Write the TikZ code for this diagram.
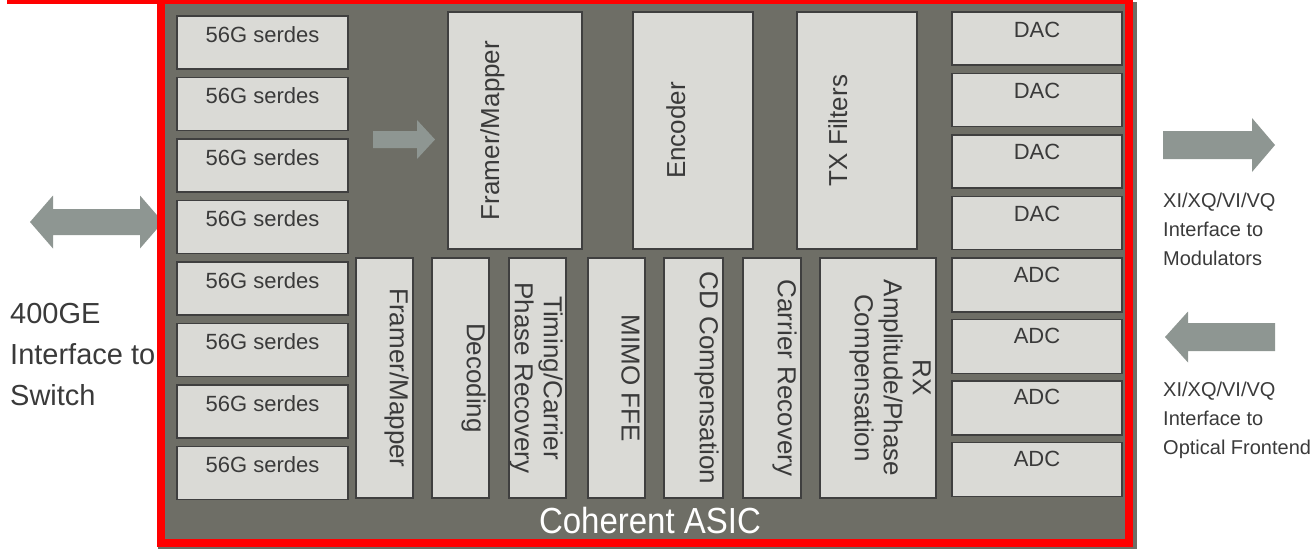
\documentclass[tikz,border=0pt]{standalone}
\usepackage{fontspec}
\setmainfont{Liberation Sans}
\definecolor{asicgray}{HTML}{6E6E66}
\definecolor{blkfill}{HTML}{DADAD6}
\definecolor{blkdraw}{HTML}{3F3F3F}
\definecolor{txt}{HTML}{3A3A3A}
\definecolor{arr}{HTML}{8E9692}
\newcommand\blkbox[5]{\node[blk, minimum width={(#4)-(#2)}, minimum height={(#5)-(#3)}] (#1) at ({((#2)+(#4))/2},{((#3)+(#5))/2}) {};}
\begin{document}
\begin{tikzpicture}[x=1pt,y=-1pt,
  blk/.style={draw=blkdraw, fill=blkfill, line width=1.4pt, inner sep=0pt, outer sep=0pt},
  hlbl/.style={font=\fontsize{22}{24}\selectfont, text=txt, inner sep=0pt, anchor=base},
  vlbl/.style={font=\fontsize{26}{29}\selectfont, text=txt, inner sep=0pt, align=center, anchor=north},
  sidelbl/.style={text=txt, inner sep=0pt, align=left, anchor=north west}]
\useasboundingbox (0,0) rectangle (1314,550);
% ASIC background
\fill[asicgray] (158,2) rectangle (1137,549);
% block arrows
\fill[arr] (30,222) -- (53,195.5) -- (53,209) -- (140,209) -- (140,195.5) -- (163,222)
  -- (140,248.5) -- (140,235) -- (53,235) -- (53,248.5) -- cycle;
\fill[arr] (373,131) -- (417,131) -- (417,120) -- (435,139.5) -- (417,159) -- (417,148) -- (373,148) -- cycle;
\fill[arr] (1163,131) -- (1252,131) -- (1252,118) -- (1275,145) -- (1252,172) -- (1252,159) -- (1163,159) -- cycle;
\fill[arr] (1165,337) -- (1188,311.5) -- (1188,323) -- (1275,323) -- (1275,351) -- (1188,351) -- (1188,362.5) -- cycle;
% red frame
\fill[red] (7,0) rectangle (1133,4);
\fill[red] (157,0) rectangle (165,547);
\fill[red] (1125,0) rectangle (1133,547);
\fill[red] (157,539) rectangle (1133,547);
% serdes column
\foreach \i in {0,...,7}{
  \pgfmathsetmacro\yt{16+61.5*\i}
  \pgfmathsetmacro\yb{\yt+53}
  \blkbox{s\i}{177}{\yt}{348}{\yb}
  \node[hlbl] (sl\i) at ([yshift=-26pt]s\i.north) {56G serdes};
}
% DAC / ADC column
\foreach \i in {0,...,3}{
  \pgfmathsetmacro\yt{12+61.4*\i}
  \pgfmathsetmacro\yb{\yt+53}
  \blkbox{d\i}{952}{\yt}{1122}{\yb}
  \node[hlbl] (dl\i) at ([yshift=-25pt]d\i.north) {DAC};
}
\foreach \i in {0,...,3}{
  \pgfmathsetmacro\yt{258+61.4*\i}
  \pgfmathsetmacro\yb{\yt+54}
  \blkbox{a\i}{952}{\yt}{1122}{\yb}
  \node[hlbl] (al\i) at ([yshift=-24pt]a\i.north) {ADC};
}
% top TX blocks
\blkbox{fmt}{448}{12}{582}{249}
\blkbox{enc}{633}{12}{753}{249}
\blkbox{txf}{797}{12}{917}{249}
\node[vlbl, rotate=90] (lfmt) at ([xshift=32pt]fmt.west) {Framer/Mapper};
\node[vlbl, rotate=90] (lenc) at ([xshift=33pt]enc.west) {Encoder};
\node[vlbl, rotate=90] (ltxf) at ([xshift=31pt]txf.west) {TX Filters};
% bottom RX blocks
\blkbox{fmb}{356}{258}{413}{498}
\blkbox{dec}{432}{258}{489}{498}
\blkbox{tim}{509}{258}{566}{498}
\blkbox{mimo}{588}{258}{645}{498}
\blkbox{cdc}{664}{258}{723}{498}
\blkbox{car}{743}{258}{801}{498}
\blkbox{rxa}{820}{258}{936}{498}
\node[vlbl, rotate=-90] (lfmb) at ([xshift=-4pt]fmb.east) {Framer/Mapper};
\node[vlbl, rotate=-90] (ldec) at ([xshift=-3pt]dec.east) {Decoding};
\node[vlbl, rotate=-90] (ltim) at ([xshift=-3pt]tim.east) {Timing/Carrier\\Phase Recovery};
\node[vlbl, rotate=-90] (lmimo) at ([xshift=-5pt]mimo.east) {MIMO FFE};
\node[vlbl, rotate=-90] (lcdc) at ([xshift=-4pt]cdc.east) {CD Compensation};
\node[vlbl, rotate=-90] (lcar) at ([xshift=-4pt]car.east) {Carrier Recovery};
\node[vlbl, rotate=-90] (lrxa) at ([xshift=-5pt]rxa.east) {RX\\Amplitude/Phase\\Compensation};
% ASIC title
\node[font=\fontsize{33}{36}\selectfont, text=white, inner sep=0pt, anchor=base, yscale=1.1] (asic) at (650,533) {Coherent ASIC};
% side labels
\node[sidelbl, font=\fontsize{29}{41}\selectfont] (sw) at (10,303) {400GE\\Interface to\\Switch};
\node[sidelbl, font=\fontsize{20}{29}\selectfont] (mod) at (1163,193) {XI/XQ/VI/VQ\\Interface to\\Modulators};
\node[sidelbl, font=\fontsize{20}{29}\selectfont] (ofe) at (1163,382) {XI/XQ/VI/VQ\\Interface to\\Optical Frontend};
\end{tikzpicture}
\end{document}
